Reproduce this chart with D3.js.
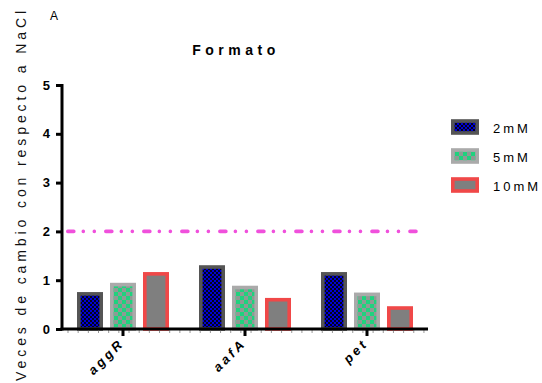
<!DOCTYPE html>
<html>
<head>
<meta charset="utf-8">
<script src="https://cdn.jsdelivr.net/npm/d3@7/dist/d3.min.js"></script>
<style>
  html, body { margin: 0; padding: 0; background: #fff; }
  svg { display: block; font-family: "Liberation Sans", Arial, sans-serif; }
</style>
</head>
<body>
<svg id="chart" width="542" height="383"></svg>
<script>
// Genes and NaCl concentrations
const categories = ["aggR", "aafA", "pet"];
const series = ["2mM", "5mM", "10mM"];
// Fold change relative to NaCl, one array per concentration (order: aggR, aafA, pet)
const values2mM = [0.72, 1.27, 1.13];
const values5mM = [0.91, 0.85, 0.71];
const values10mM = [1.13, 0.60, 0.43];
const yTicks = [0, 1, 2, 3, 4, 5];
const threshold = 2;

const seriesValues = [values2mM, values5mM, values10mM];
const rows = categories.map((c, i) => ({
  cat: c,
  bars: series.map((s, j) => ({ key: s, value: seriesValues[j][i] }))
}));

const svg = d3.select("#chart");

// Plot frame
const plotLeft = 62, plotRight = 428, plotTop = 85, plotBottom = 329;

const x0 = d3.scaleBand().domain(categories).range([plotLeft, plotRight]).padding(0);
const x1 = d3.scaleBand().domain(series).range([15, 107]).paddingInner(0.2121).paddingOuter(0);
const y = d3.scaleLinear().domain([0, 5]).range([plotBottom, plotTop]);

// Fill patterns
const defs = svg.append("defs");
const p1 = defs.append("pattern").attr("id", "pat2").attr("patternUnits", "userSpaceOnUse")
  .attr("width", 4).attr("height", 4);
p1.append("rect").attr("width", 4).attr("height", 4).attr("fill", "#0000d8");
p1.append("rect").attr("width", 2).attr("height", 2).attr("fill", "#05051a");
p1.append("rect").attr("x", 2).attr("y", 2).attr("width", 2).attr("height", 2).attr("fill", "#05051a");

const p2 = defs.append("pattern").attr("id", "pat5").attr("patternUnits", "userSpaceOnUse")
  .attr("width", 8).attr("height", 8);
p2.append("rect").attr("width", 8).attr("height", 8).attr("fill", "#8f9a94");
p2.append("rect").attr("width", 4).attr("height", 4).attr("fill", "#1fd27e");
p2.append("rect").attr("x", 4).attr("y", 4).attr("width", 4).attr("height", 4).attr("fill", "#1fd27e");

const fills = { "2mM": "url(#pat2)", "5mM": "url(#pat5)", "10mM": "#7f7f7f" };
const strokes = { "2mM": "#555555", "5mM": "#aaaaaa", "10mM": "#f04848" };
const sw = 3.6;

// Panel letter and title
svg.append("text").attr("x", 50).attr("y", 20).attr("font-size", 12).text("A");
svg.append("text").attr("x", 236).attr("y", 55).attr("text-anchor", "middle")
  .attr("font-size", 14).attr("font-weight", "bold").attr("letter-spacing", 4.5).text("Formato");

// Y axis label
svg.append("text")
  .attr("transform", "translate(26,194) rotate(-90)")
  .attr("text-anchor", "middle").attr("font-size", 14).attr("letter-spacing", 3.9)
  .attr("fill", "#111")
  .text("Veces de cambio con respecto a NaCl");

// Bars
const groups = svg.append("g").selectAll("g").data(rows).join("g")
  .attr("transform", d => `translate(${x0(d.cat)},0)`);
groups.selectAll("rect").data(d => d.bars).join("rect")
  .attr("x", d => x1(d.key) + sw / 2)
  .attr("width", x1.bandwidth() - sw)
  .attr("y", d => y(d.value))
  .attr("height", d => y(0) - y(d.value))
  .attr("fill", d => fills[d.key])
  .attr("stroke", d => strokes[d.key])
  .attr("stroke-width", sw);

// Reference line
svg.append("line")
  .attr("x1", plotLeft + 4).attr("x2", 416)
  .attr("y1", y(threshold)).attr("y2", y(threshold))
  .attr("stroke", "#f050dc").attr("stroke-width", 3.6)
  .attr("stroke-linecap", "round")
  .attr("stroke-dasharray", "6,9.5,0.01,11,0.01,11.5")
  .attr("transform", "translate(1.8,0)");

// Y axis
const yAxis = svg.append("g").attr("transform", `translate(${plotLeft},0)`)
  .call(d3.axisLeft(y).tickValues(yTicks).tickSize(6).tickPadding(6).tickFormat(d3.format("d")));
yAxis.select(".domain").attr("stroke", "#000").attr("stroke-width", 3).attr("d", `M0,${plotBottom + 1.5}V${plotTop - 1}`);
yAxis.selectAll(".tick line").attr("stroke", "#000").attr("stroke-width", 3);
yAxis.selectAll(".tick text").attr("font-size", 13).attr("font-weight", "bold").attr("fill", "#000")
  .attr("font-family", "Liberation Sans, Arial, sans-serif");

// X axis minor ticks
const minor = d3.range(plotLeft + 6, plotRight, 10.17);
svg.append("g").selectAll("line").data(minor).join("line")
  .attr("x1", d => d).attr("x2", d => d)
  .attr("y1", plotBottom + 1).attr("y2", plotBottom + 4)
  .attr("stroke", "#999").attr("stroke-width", 1);

// X axis
const xAxis = svg.append("g").attr("transform", `translate(0,${plotBottom})`)
  .call(d3.axisBottom(x0).tickSize(7).tickFormat(""));
xAxis.select(".domain").attr("stroke", "#000").attr("stroke-width", 3).attr("d", `M${plotLeft - 1.5},0H${plotRight}`);
xAxis.selectAll(".tick line").attr("stroke", "#000").attr("stroke-width", 3);

// Rotated category labels
svg.append("g").selectAll("text").data(categories).join("text")
  .attr("transform", d => `translate(${x0(d) + x0.bandwidth() / 2 + 2},${plotBottom + 15}) rotate(-45)`)
  .attr("text-anchor", "end").attr("font-size", 13).attr("font-weight", "bold")
  .attr("font-style", "italic").attr("letter-spacing", 3)
  .text(d => d);

// Legend
const legend = svg.append("g").selectAll("g").data(series).join("g")
  .attr("transform", (d, i) => `translate(451,${127 + i * 29})`);
legend.append("rect")
  .attr("x", sw / 2).attr("y", -6).attr("width", 28 - sw).attr("height", 12)
  .attr("fill", d => fills[d]).attr("stroke", d => strokes[d]).attr("stroke-width", sw);
legend.append("text").attr("x", 42).attr("y", 6).attr("font-size", 13).attr("letter-spacing", 3)
  .text(d => d);
</script>
</body>
</html>
